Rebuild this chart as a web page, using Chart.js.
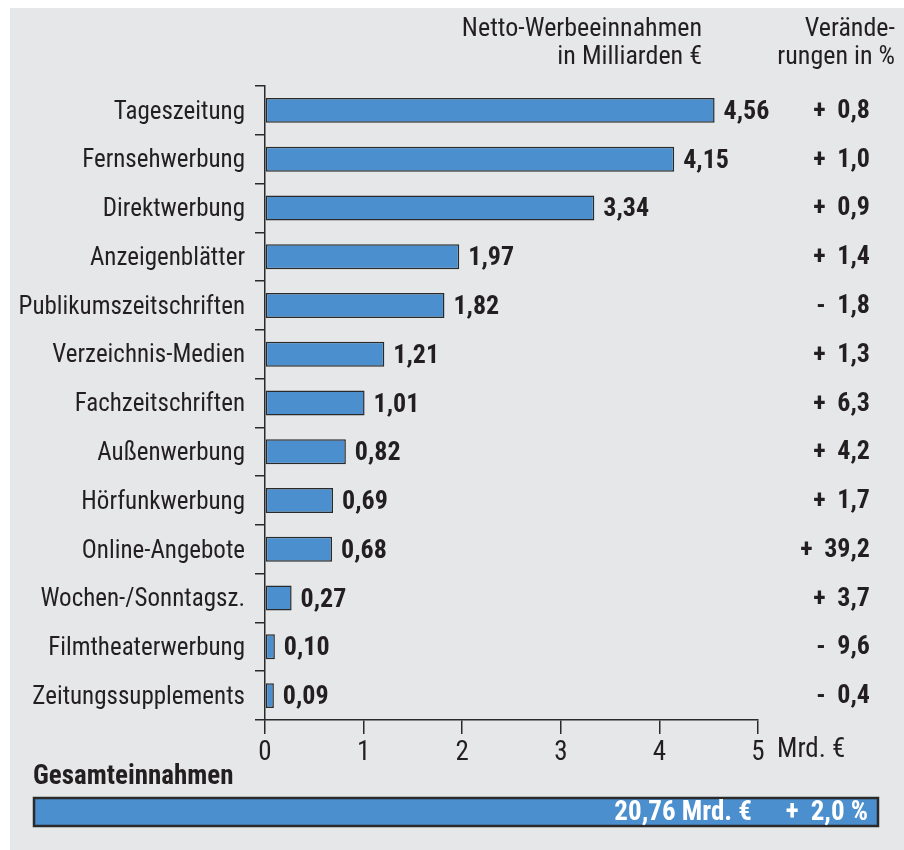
<!DOCTYPE html>
<html>
<head>
<meta charset="utf-8">
<script src="https://cdn.jsdelivr.net/npm/chart.js@4/dist/chart.umd.min.js"></script>
<style>
html,body{margin:0;padding:0;background:#ffffff;}
canvas{display:block;}
</style>
</head>
<body>
<canvas id="c" width="904" height="850"></canvas>
<script>
// ---- data ----
const categories = ['Tageszeitung','Fernsehwerbung','Direktwerbung','Anzeigenblätter','Publikumszeitschriften','Verzeichnis-Medien','Fachzeitschriften','Außenwerbung','Hörfunkwerbung','Online-Angebote','Wochen-/Sonntagsz.','Filmtheaterwerbung','Zeitungssupplements'];
const values = [4.56, 4.15, 3.34, 1.97, 1.82, 1.21, 1.01, 0.82, 0.69, 0.68, 0.27, 0.10, 0.09];
const changes = [0.8, 1.0, 0.9, 1.4, -1.8, 1.3, 6.3, 4.2, 1.7, 39.2, 3.7, -9.6, -0.4];
const xTicks = [0, 1, 2, 3, 4, 5];
const headerValue = ['Netto-Werbeeinnahmen', 'in Milliarden €'];
const headerChange = ['Verände-', 'rungen in %'];
const totalLabel = 'Gesamteinnahmen';
const totalValue = 20.76;
const totalChange = 2.0;
const unitLabel = 'Mrd. €';

const FONT = '"Liberation Sans Narrow", "Arial Narrow", "Roboto Condensed", sans-serif';
const TXT = '#231f20';
const BLUE = '#4b8fce';
const EDGE = '#2a2a2a';
const SP = '\u2002';

function fmt(v, d) { return v.toFixed(d).replace('.', ','); }
function fmtChange(v) { return (v < 0 ? '-' : '+') + SP + fmt(Math.abs(v), 1); }

const extras = {
  id: 'extras',
  beforeDraw(chart) {
    const ctx = chart.ctx;
    ctx.save();
    ctx.fillStyle = '#ffffff';
    ctx.fillRect(0, 0, chart.width, chart.height);
    ctx.fillStyle = '#e6e7e9';
    ctx.fillRect(10, 8, chart.width - 10, chart.height - 8);
    ctx.restore();
  },
  afterDraw(chart) {
    const ctx = chart.ctx;
    const meta = chart.getDatasetMeta(0);
    const xs = chart.scales.x;
    ctx.save();
    ctx.fillStyle = TXT;
    ctx.textBaseline = 'middle';
    // value labels + changes
    meta.data.forEach((bar, i) => {
      ctx.font = 'bold 26px ' + FONT;
      ctx.textAlign = 'left';
      ctx.fillText(fmt(values[i], 2), bar.x + 9, bar.y + 2);
      ctx.textAlign = 'right';
      ctx.fillText(fmtChange(changes[i]), 870, bar.y + 1);
    });
    // headers
    ctx.font = '26px ' + FONT;
    ctx.textBaseline = 'alphabetic';
    ctx.textAlign = 'right';
    ctx.fillText(headerValue[0], 702, 36);
    ctx.fillText(headerValue[1], 702, 64);
    ctx.fillText(headerChange[0], 895, 36);
    ctx.fillText(headerChange[1], 895, 64);
    // unit after last tick
    ctx.font = '27px ' + FONT;
    ctx.textAlign = 'left';
    ctx.textBaseline = 'top';
    ctx.fillText(unitLabel, xs.getPixelForValue(xTicks[xTicks.length - 1]) + 19, xs.top + 17);
    // total
    ctx.font = 'bold 27px ' + FONT;
    ctx.textBaseline = 'alphabetic';
    ctx.fillText(totalLabel, 33, 784);
    ctx.fillStyle = BLUE;
    ctx.fillRect(34, 798, 844, 28);
    ctx.strokeStyle = EDGE;
    ctx.lineWidth = 2.5;
    ctx.strokeRect(34, 798, 844, 28);
    ctx.fillStyle = '#ffffff';
    ctx.textAlign = 'right';
    ctx.textBaseline = 'middle';
    ctx.fillText('+' + SP + fmt(totalChange, 1) + ' %', 868, 813);
    ctx.fillText(fmt(totalValue, 2) + ' ' + unitLabel, 752, 813);
    ctx.restore();
  }
};

new Chart(document.getElementById('c'), {
  type: 'bar',
  data: {
    labels: categories,
    datasets: [{
      data: values,
      backgroundColor: BLUE,
      borderColor: EDGE,
      borderWidth: 1.5,
      borderSkipped: false,
      categoryPercentage: 1.0,
      barPercentage: 0.512
    }]
  },
  options: {
    indexAxis: 'y',
    responsive: false,
    animation: false,
    events: [],
    layout: { padding: { top: 86, right: 146, left: 0, bottom: 0 } },
    plugins: { legend: { display: false }, tooltip: { enabled: false } },
    scales: {
      y: {
        type: 'category',
        afterFit(scale) { scale.width = 265; },
        grid: { drawOnChartArea: false, drawTicks: true, tickLength: 10, color: EDGE, lineWidth: 1.5, offset: true },
        border: { display: true, color: EDGE, width: 1.5 },
        ticks: { autoSkip: false, color: TXT, font: { family: FONT, size: 25 }, padding: 10, labelOffset: 2 }
      },
      x: {
        type: 'linear',
        min: 0, max: 5,
        afterFit(scale) { scale.height = 850 - 720; },
        afterBuildTicks(scale) { scale.ticks = xTicks.map(v => ({ value: v })); },
        grid: { drawOnChartArea: false, drawTicks: true, tickLength: 14, color: EDGE, lineWidth: 1.5 },
        border: { display: true, color: EDGE, width: 1.5 },
        ticks: { color: TXT, font: { family: FONT, size: 27 }, padding: 3, maxRotation: 0 }
      }
    }
  },
  plugins: [extras]
});
</script>
</body>
</html>
